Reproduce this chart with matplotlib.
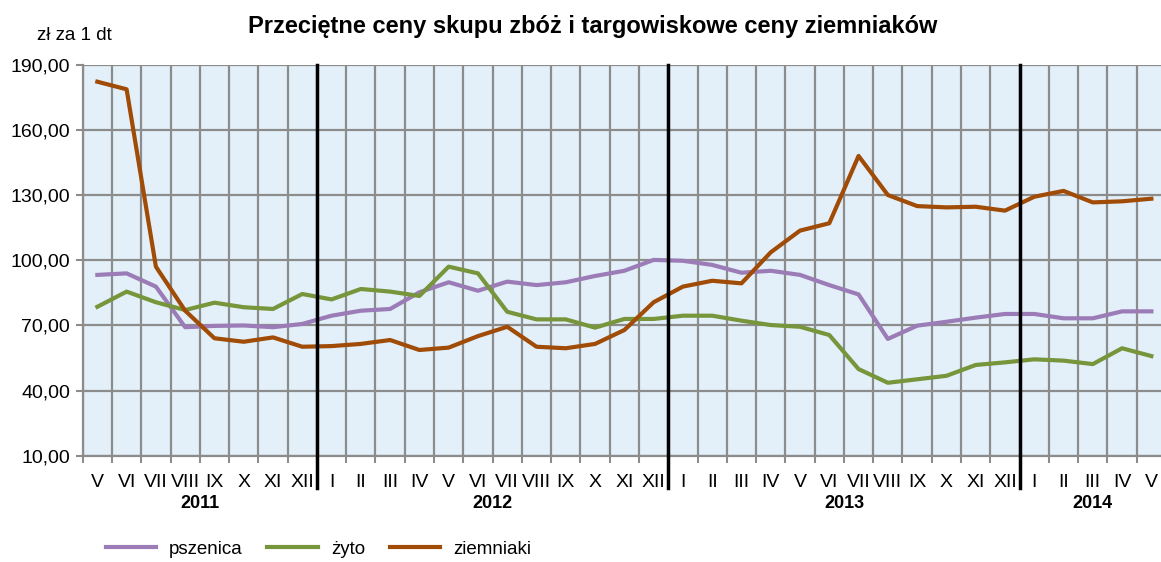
import matplotlib.pyplot as plt
from matplotlib.transforms import blended_transform_factory
import numpy as np

# ---------- data ----------
months = ['V', 'VI', 'VII', 'VIII', 'IX', 'X', 'XI', 'XII',
          'I', 'II', 'III', 'IV', 'V', 'VI', 'VII', 'VIII', 'IX', 'X', 'XI', 'XII',
          'I', 'II', 'III', 'IV', 'V', 'VI', 'VII', 'VIII', 'IX', 'X', 'XI', 'XII',
          'I', 'II', 'III', 'IV', 'V']
years = ['2011', '2012', '2013', '2014']
year_lengths = [8, 12, 12, 5]

pszenica = [93.3, 94.0, 87.9, 69.2, 69.8, 70.0, 69.2, 70.7,
            74.5, 76.8, 77.6, 85.3, 89.9, 86.0, 90.2, 88.6, 89.9, 92.8, 95.2, 100.2,
            99.8, 97.9, 94.3, 95.2, 93.3, 88.6, 84.3, 63.8, 69.9, 71.7, 73.6, 75.3,
            75.3, 73.3, 73.3, 76.5, 76.5]
zyto = [78.6, 85.6, 80.7, 77.1, 80.5, 78.4, 77.6, 84.5,
        82.0, 86.8, 85.6, 83.6, 97.1, 94.0, 76.3, 72.8, 72.8, 69.0, 73.0, 73.0,
        74.5, 74.5, 72.2, 70.2, 69.4, 65.6, 49.9, 43.6, 45.2, 46.8, 51.8, 53.0,
        54.4, 53.8, 52.2, 59.5, 55.9]
ziemniaki = [182.3, 178.8, 97.1, 76.8, 64.1, 62.5, 64.5, 60.2,
             60.5, 61.5, 63.3, 58.7, 59.8, 65.1, 69.4, 60.2, 59.5, 61.5, 67.9, 80.7,
             87.9, 90.6, 89.4, 103.7, 113.7, 117.1, 148.1, 130.1, 125.0, 124.4, 124.7, 122.9,
             129.3, 132.0, 126.7, 127.2, 128.4]
y_ticks = [10, 40, 70, 100, 130, 160, 190]

# ---------- figure ----------
plt.rcParams['font.family'] = ['Liberation Sans', 'DejaVu Sans']

fig = plt.figure(figsize=(11.61, 5.62), dpi=100)
ax = fig.add_axes([82.7 / 1161, 1 - 455.7 / 562, (1166 - 82.7) / 1161, (455.7 - 65) / 562])
ax.set_facecolor('#E3F0FA')

x = np.arange(len(months))
ax.plot(x, pszenica, color='#9B7CB6', lw=3, label='pszenica', zorder=4)
ax.plot(x, zyto, color='#77953B', lw=3, label='żyto', zorder=4)
ax.plot(x, ziemniaki, color='#A04B06', lw=3, label='ziemniaki', zorder=4)

ax.set_xlim(-0.5, len(months) - 0.5)
ax.set_ylim(10, 190)
ax.set_yticks(y_ticks)
ax.set_yticklabels(['%d,00' % v for v in y_ticks], fontsize=14)
ax.set_xticks(x)
ax.set_xticklabels(months, fontsize=14)
ax.set_xticks(np.arange(-0.5, len(months), 1), minor=True)
ax.tick_params(axis='x', which='major', length=0, pad=13)
ax.tick_params(axis='x', which='minor', length=5, width=1.5, color='#8C8C8C')
ax.tick_params(axis='y', length=5, width=1.5, color='#8C8C8C', pad=4)

ax.grid(axis='y', which='major', color='#8C8C8C', lw=1.6)
ax.grid(axis='x', which='minor', color='#8C8C8C', lw=1.6)
ax.set_axisbelow(True)
for s in ['top', 'right']:
    ax.spines[s].set_visible(False)
for s in ['left', 'bottom']:
    ax.spines[s].set_color('#8C8C8C')
    ax.spines[s].set_linewidth(1.6)

# year separators and year labels
bounds = np.cumsum([0] + year_lengths) - 0.5
for b in bounds[1:-1]:
    ax.axvline(b, ymin=-0.083, ymax=1, color='black', lw=2.5, clip_on=False, zorder=5)
trans = blended_transform_factory(ax.transData, ax.transAxes)
for i, yr in enumerate(years):
    cx = (bounds[i] + bounds[i + 1]) / 2
    ax.text(cx, -0.122, yr, transform=trans, ha='center', va='center',
            fontsize=13, fontweight='bold')

fig.text(593 / 1161, 1 - 27 / 562, 'Przeciętne ceny skupu zbóż i targowiskowe ceny ziemniaków',
         ha='center', va='center', fontsize=17, fontweight='bold')
fig.text(37 / 1161, 1 - 36 / 562, 'zł za 1 dt', ha='left', va='center', fontsize=13.5)

fig.legend(loc='center left', bbox_to_anchor=(98 / 1161, 1 - 549 / 562), ncol=3,
           frameon=False, fontsize=13.5, handlelength=2.7, handletextpad=0.7,
           columnspacing=1.3, borderaxespad=0)

fig.savefig('out.png', dpi=100)
